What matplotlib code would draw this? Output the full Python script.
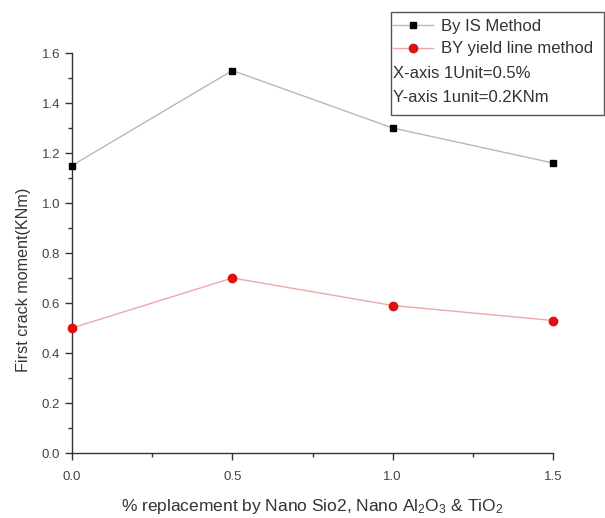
import matplotlib
matplotlib.use("Agg")
import matplotlib.pyplot as plt
from matplotlib.patches import Rectangle

plt.rcParams['font.family'] = ['Liberation Sans', 'DejaVu Sans']
plt.rcParams['mathtext.fontset'] = 'custom'
plt.rcParams['mathtext.rm'] = 'Liberation Sans'
plt.rcParams['mathtext.it'] = 'Liberation Sans'

# data
replacement = [0.0, 0.5, 1.0, 1.5]
is_method = [1.15, 1.53, 1.30, 1.16]
yield_line = [0.50, 0.70, 0.59, 0.53]
x_ticks = [0.0, 0.5, 1.0, 1.5]
y_ticks = [0.0, 0.2, 0.4, 0.6, 0.8, 1.0, 1.2, 1.4, 1.6]
series_labels = ["By IS Method", "BY yield line method"]
note_lines = ["X-axis 1Unit=0.5%", "Y-axis 1unit=0.2KNm"]

W, H = 605, 518
fig = plt.figure(figsize=(W/100, H/100), dpi=100)
ax = fig.add_axes([72/W, 1-453/H, (553-72)/W, (453-53)/H])

ax.plot(replacement, is_method, color='#b8b8b8', lw=1.0, marker='s', ms=5,
        mfc='black', mec='black', label=series_labels[0], clip_on=False, zorder=3)
ax.plot(replacement, yield_line, color='#f0a8a8', lw=1.0, marker='o', ms=6,
        mfc='#e01010', mec='#e01010', label=series_labels[1], clip_on=False, zorder=3)

ax.set_xlim(0, 1.5)
ax.set_ylim(0, 1.6)
ax.set_xticks(x_ticks)
ax.set_xticklabels([f"{v:.1f}" for v in x_ticks])
ax.set_yticks(y_ticks)
ax.set_yticklabels([f"{v:.1f}" for v in y_ticks])
ax.set_xticks([0.25, 0.75, 1.25], minor=True)
ax.set_yticks([0.1, 0.3, 0.5, 0.7, 0.9, 1.1, 1.3, 1.5], minor=True)
for s in ['top', 'right']:
    ax.spines[s].set_visible(False)
for s in ['left', 'bottom']:
    ax.spines[s].set_color('#333333')
    ax.spines[s].set_linewidth(1.0)
ax.tick_params(which='major', direction='out', length=5, width=1, colors='#333333',
               labelsize=9.5, labelcolor='#444444')
ax.tick_params(axis='x', which='major', pad=8)
ax.tick_params(which='minor', direction='out', length=3, width=1, colors='#333333')

ax.set_xlabel("% replacement by Nano Sio2, Nano Al$_2$O$_3$ & TiO$_2$",
              fontsize=12.5, color='#333333', labelpad=10)
ax.set_ylabel("First crack moment(KNm)", fontsize=11.6, color='#333333')
ax.yaxis.set_label_coords(-0.085, (453-280)/400)

# legend box
box = Rectangle((391/W, 1-115/H), (604-391)/W, (115-12)/H, transform=fig.transFigure,
                fill=False, edgecolor='#555555', lw=1.0)
fig.add_artist(box)
leg = ax.legend(loc='upper left', bbox_to_anchor=(388/W, 1-14/H),
                bbox_transform=fig.transFigure, frameon=False, fontsize=12,
                handlelength=2.4, handletextpad=0.5, labelspacing=0.45,
                borderpad=0.3, borderaxespad=0)
for t in leg.get_texts():
    t.set_color('#333333')
fig.text(393/W, 1-73/H, note_lines[0], fontsize=12, color='#333333', va='center')
fig.text(393/W, 1-97/H, note_lines[1], fontsize=12, color='#333333', va='center')

fig.savefig("out.png", dpi=100)
